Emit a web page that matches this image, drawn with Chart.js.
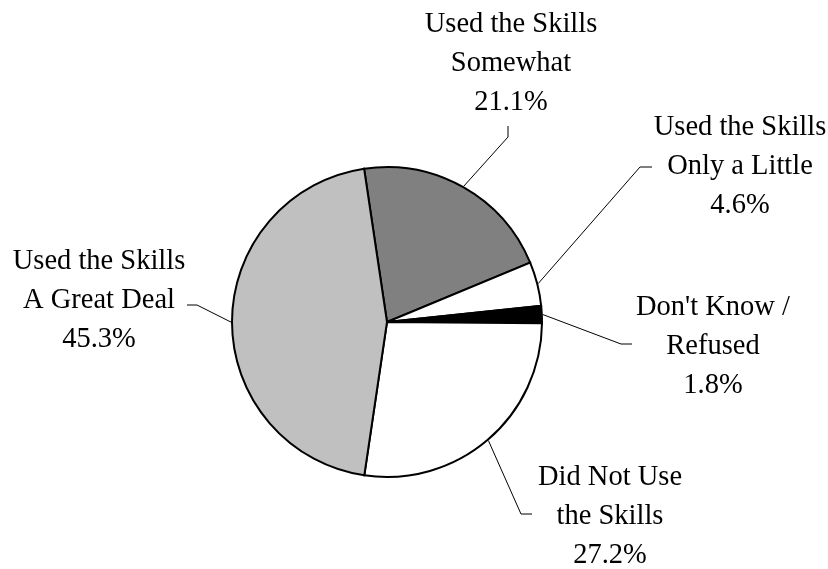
<!DOCTYPE html>
<html>
<head>
<meta charset="utf-8">
<title>Use of Skills</title>
<script src="https://cdn.jsdelivr.net/npm/chart.js@4/dist/chart.umd.min.js"></script>
<style>
  html, body { margin: 0; padding: 0; background: #ffffff; }
  #wrap { width: 828px; height: 569px; }
</style>
</head>
<body>
<div id="wrap"><canvas id="chart" width="828" height="569"></canvas></div>
<script>
// categories (label lines) and shares in percent
const categories = [
  ["Used the Skills", "Somewhat"],
  ["Used the Skills", "Only a Little"],
  ["Don't Know /", "Refused"],
  ["Did Not Use", "the Skills"],
  ["Used the Skills", "A Great Deal"]
];
const shares = [21.1, 4.6, 1.8, 27.2, 45.3];
const fills = ["#808080", "#ffffff", "#000000", "#ffffff", "#c0c0c0"];

// where each label sits: text centre x, first baseline, elbow of the leader, end of the short tail
const labelLayout = [
  { cx: 511, y: 32,  elbow: [508, 137], tail: [508, 126] },
  { cx: 740, y: 135, elbow: [640, 167], tail: [652, 167] },
  { cx: 713, y: 315, elbow: [621, 344], tail: [632, 344] },
  { cx: 610, y: 485, elbow: [521, 514], tail: [532, 514] },
  { cx: 99,  y: 269, elbow: [197, 305], tail: [187, 305] }
];
const lineGap = 39;

// leader lines and labels, anchored at the middle of each slice's outer edge
const sliceLabels = {
  id: "sliceLabels",
  afterDatasetsDraw(chart) {
    const ctx = chart.ctx;
    const meta = chart.getDatasetMeta(0);
    ctx.save();
    meta.data.forEach((arc, i) => {
      const p = arc.getProps(["x", "y", "startAngle", "endAngle", "outerRadius"], true);
      const mid = (p.startAngle + p.endAngle) / 2;
      const r = p.outerRadius + 1;
      const sx = p.x + Math.cos(mid) * r;
      const sy = p.y + Math.sin(mid) * r;
      const lay = labelLayout[i];

      ctx.strokeStyle = "#000000";
      ctx.lineWidth = 1;
      ctx.beginPath();
      ctx.moveTo(sx, sy);
      ctx.lineTo(lay.elbow[0], lay.elbow[1]);
      ctx.lineTo(lay.tail[0], lay.tail[1]);
      ctx.stroke();

      const lines = categories[i].concat([shares[i].toFixed(1) + "%"]);
      ctx.fillStyle = "#000000";
      ctx.font = "28.5px 'Liberation Serif', 'Times New Roman', serif";
      ctx.textAlign = "center";
      ctx.textBaseline = "alphabetic";
      lines.forEach((txt, k) => {
        ctx.fillText(txt, lay.cx, lay.y + k * lineGap);
      });
    });
    ctx.restore();
  }
};

new Chart(document.getElementById("chart").getContext("2d"), {
  type: "pie",
  data: {
    labels: categories.map(c => c.join(" ")),
    datasets: [{
      data: shares,
      backgroundColor: fills,
      borderColor: "#000000",
      borderWidth: 2,
      borderJoinStyle: "miter"
    }]
  },
  options: {
    responsive: false,
    animation: false,
    rotation: -8.5,
    radius: 155,
    layout: { padding: { left: 232, top: 167, right: 286, bottom: 92 } },
    plugins: {
      legend: { display: false },
      tooltip: { enabled: false },
      title: { display: false }
    }
  },
  plugins: [sliceLabels]
});
</script>
</body>
</html>
